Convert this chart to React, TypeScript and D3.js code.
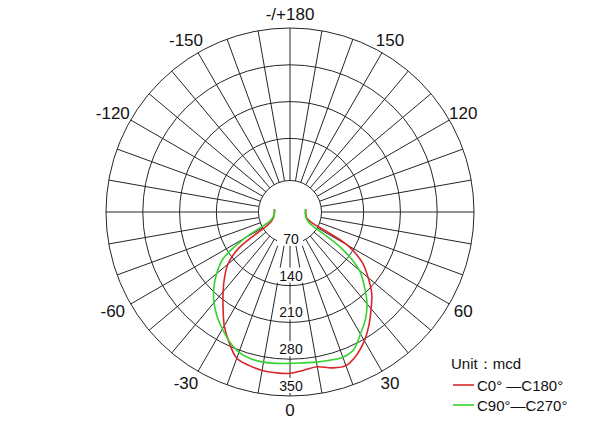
import * as d3 from "d3";
import React from "react";

// angle in degrees, 0 = straight down, positive to the right
const angles = [
  -100, -95, -90, -85, -80, -75, -70, -65, -60, -55, -50, -45, -40, -35, -30, -25, -20, -15, -10, -5, 0,
  5, 10, 15, 20, 25, 30, 35, 40, 45, 50, 55, 60, 65, 70, 75, 80, 85, 90, 95, 100,
];

// C0°-C180° plane (mcd)
const c0Values = [
  31, 30, 30, 30, 31, 32, 34, 38, 48, 118, 154, 176, 198, 222, 250, 274, 296, 302, 306, 307, 307,
  302, 299, 307, 311, 300, 283, 262, 240, 220, 194, 168, 126, 42, 34, 32, 31, 30, 30, 30, 31,
];

// C90°-C270° plane (mcd)
const c90Values = [
  30, 29, 29, 30, 31, 33, 36, 44, 100, 156, 182, 205, 225, 242, 257, 272, 284, 289, 290, 289, 288,
  288, 290, 292, 294, 288, 268, 250, 228, 200, 172, 118, 44, 36, 33, 31, 30, 29, 29, 29, 30,
];

const ringValues = [140, 210, 280, 350];
const ringLabels = [70, 140, 210, 280, 350];
const spokeAngles = d3.range(0, 360, 10);
const angleLabels = [0, 30, 60, 120, 150, 180, -150, -120, -60, -30];

const WIDTH = 600;
const HEIGHT = 430;
const CX = 290;
const CY = 212;
const R = 184;
const FONT = "Arial, 'Liberation Sans', Helvetica, sans-serif";

const rScale = d3.scaleLinear().domain([0, 350]).range([0, R]);
const HOLE = rScale(60);

const toRad = (deg: number) => (deg * Math.PI) / 180;
const px = (deg: number, r: number) => CX + r * Math.sin(toRad(deg));
const py = (deg: number, r: number) => CY + r * Math.cos(toRad(deg));

const radialLine = d3
  .lineRadial<number>()
  .angle((_, i) => Math.PI - toRad(angles[i]))
  .radius((v) => rScale(v))
  .curve(d3.curveCatmullRom.alpha(0.5));

const RED = "#d8262c";
const GREEN = "#36d22e";

export default function App() {
  return (
    <svg
      width={WIDTH}
      height={HEIGHT}
      style={{ position: "fixed", left: 0, top: 0, background: "#fff", fontFamily: FONT }}
    >
      <rect width={WIDTH} height={HEIGHT} fill="#fff" />
      <g stroke="#262626" strokeWidth={1} fill="none">
        {spokeAngles.map((a) => (
          <line key={a} x1={px(a, HOLE)} y1={py(a, HOLE)} x2={px(a, R)} y2={py(a, R)} />
        ))}
        {ringValues.map((v) => (
          <circle key={v} cx={CX} cy={CY} r={rScale(v)} />
        ))}
        <circle cx={CX} cy={CY} r={HOLE} fill="#fff" />
      </g>

      {ringLabels.map((v) => {
        const y = CY + rScale(v) - 10;
        return (
          <g key={v}>
            <rect x={CX - 13} y={y - 8} width={26} height={15} fill="#fff" />
            <text x={CX + 1} y={y} fontSize={14} textAnchor="middle" dominantBaseline="central" fill="#111">
              {v}
            </text>
          </g>
        );
      })}

      {angleLabels.map((a) => (
        <text
          key={a}
          x={px(a, 200) + (a < 0 ? -4 : 0)}
          y={py(a, 198)}
          fontSize={17}
          textAnchor="middle"
          dominantBaseline="central"
          fill="#111"
        >
          {a === 180 ? "-/+180" : a}
        </text>
      ))}

      <g transform={`translate(${CX},${CY})`} fill="none" strokeWidth={1.6}>
        <path d={radialLine(c0Values) ?? ""} stroke={RED} />
        <path d={radialLine(c90Values) ?? ""} stroke={GREEN} />
      </g>

      <g fontSize={15} fill="#111">
        <text x={451} y={363} dominantBaseline="central">
          Unit：mcd
        </text>
        <line x1={453} x2={474} y1={385} y2={385} stroke={RED} strokeWidth={1.6} />
        <text x={477} y={385} dominantBaseline="central">
          C0°  —C180°
        </text>
        <line x1={453} x2={474} y1={405} y2={405} stroke={GREEN} strokeWidth={1.6} />
        <text x={477} y={405} dominantBaseline="central">
          C90°—C270°
        </text>
      </g>
    </svg>
  );
}
